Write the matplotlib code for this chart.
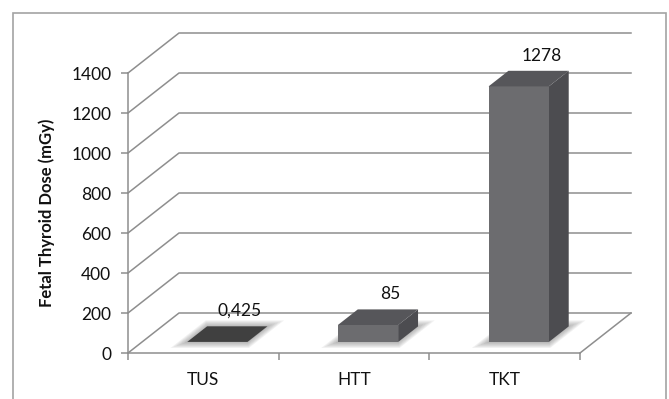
import matplotlib.pyplot as plt
from matplotlib.patches import Polygon, Rectangle

plt.rcParams.update({'font.family': ['Lato', 'DejaVu Sans'],
                     'font.size': 12.5})

categories = ['TUS', 'HTT', 'TKT']
doses = [0.425, 85, 1278]
dose_labels = ['0,425', '85', '1278']
y_ticks = [0, 200, 400, 600, 800, 1000, 1200, 1400]

# fake-3D geometry (depth offset in data units)
DX, DY = 0.3385, 200
F0, F1 = 0.275, 0.665      # bar front / back depth
HW = 0.2                   # half bar width
grid_c = '#8e8e8e'
text_c = '#111111'

front_c = ['#404040', '#6c6c6f', '#6c6c6f']
top_c = ['#404040', '#56565a', '#56565a']
side_c = ['#3a3a3a', '#4c4c50', '#4c4c50']


def proj(x, y, d):
    return x + d * DX, y + d * DY


fig = plt.figure(figsize=(6.69, 3.99), dpi=100)
ax = fig.add_axes([128/669, 46/399, 452/669, 280/399])
ax.set_xlim(-0.5, 2.5)
ax.set_ylim(0, 1400)

# side wall + back wall gridlines
for v in y_ticks:
    x0, y0 = proj(-0.5, v, 1)
    x1, y1 = proj(2.5, v, 1)
    ax.plot([-0.5, x0, x1], [v, y0, y1], color=grid_c, lw=1.1,
            clip_on=False, zorder=1)
xr, yr = proj(2.5, 0, 1)
ax.plot([2.5, xr], [0, yr], color=grid_c, lw=1.1, clip_on=False, zorder=1)

for i, v in enumerate(doses):
    xl, xr_ = i - HW, i + HW

    # soft shadow under the bar
    for k in range(6):
        e = 0.01 * (k + 1)
        ed = 0.025 * (k + 1)
        pts = [proj(xl - e, 0, F0 - ed), proj(xr_ + e, 0, F0 - ed),
               proj(xr_ + e, 0, F1 + ed), proj(xl - e, 0, F1 + ed)]
        ax.add_patch(Polygon(pts, closed=True, fc='#6a6a6a', ec='none',
                             alpha=0.09, clip_on=False, zorder=2))

    side = [proj(xr_, 0, F0), proj(xr_, v, F0), proj(xr_, v, F1), proj(xr_, 0, F1)]
    front = [proj(xl, 0, F0), proj(xr_, 0, F0), proj(xr_, v, F0), proj(xl, v, F0)]
    top = [proj(xl, v, F0), proj(xr_, v, F0), proj(xr_, v, F1), proj(xl, v, F1)]
    ax.add_patch(Polygon(side, closed=True, fc=side_c[i], ec='none',
                         clip_on=False, zorder=3))
    ax.add_patch(Polygon(front, closed=True, fc=front_c[i], ec='none',
                         clip_on=False, zorder=3))
    ax.add_patch(Polygon(top, closed=True, fc=top_c[i], ec='none',
                         clip_on=False, zorder=4))

    ax.annotate(dose_labels[i], xy=proj(i, v, F1), xytext=(2, 11),
                textcoords='offset points', ha='center', va='center',
                color=text_c, annotation_clip=False)

for s in ['top', 'right']:
    ax.spines[s].set_visible(False)
for s in ['left', 'bottom']:
    ax.spines[s].set_color(grid_c)
    ax.spines[s].set_linewidth(1.1)

ax.set_yticks(y_ticks)
ax.tick_params(axis='y', length=5, width=1.1, color=grid_c, pad=7,
               labelcolor=text_c)
ax.set_xticks([-0.5, 0.5, 1.5, 2.5])
ax.set_xticklabels([])
ax.set_xticks(range(len(categories)), minor=True)
ax.set_xticklabels(categories, minor=True)
ax.tick_params(axis='x', which='major', length=5, width=1.1, color=grid_c)
ax.tick_params(axis='x', which='minor', length=0, pad=14,
               labelcolor=text_c)

ax.set_ylabel('Fetal Thyroid Dose (mGy)', fontweight='bold', color=text_c,
              fontsize=12)
ax.yaxis.set_label_coords(-0.1615, 0.5)

# chart area border
fig.add_artist(Rectangle((13/669, -0.1), 653/669, 386/399 + 0.1,
                         transform=fig.transFigure, fill=False,
                         ec='#a3a3a3', lw=1.2))

fig.savefig('out.png', dpi=100)
